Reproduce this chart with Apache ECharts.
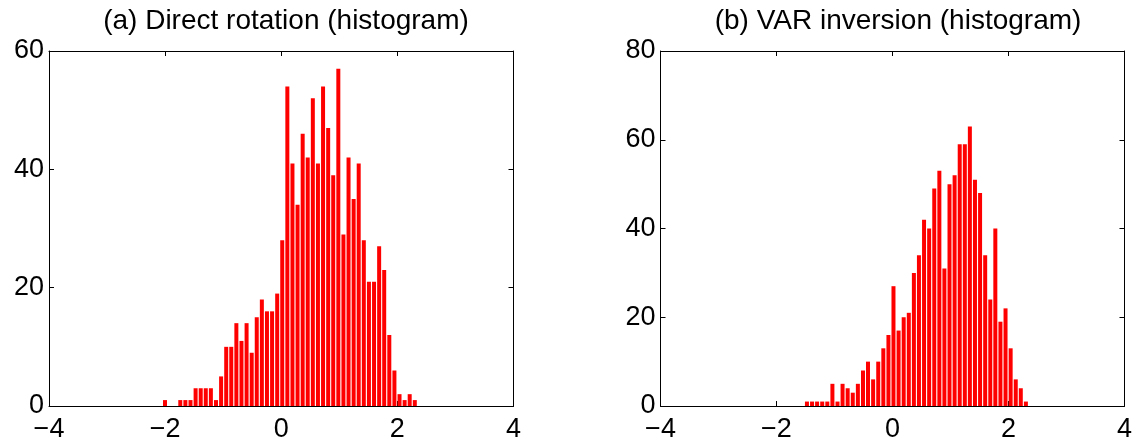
<!DOCTYPE html>
<html>
<head>
<meta charset="utf-8">
<script src="https://cdn.jsdelivr.net/npm/echarts@6/dist/echarts.min.js"></script>
<style>
html,body{margin:0;padding:0;background:#fff;}
#chart{width:1135px;height:446px;}
</style>
</head>
<body>
<div id="chart"></div>
<script>
// Histogram bin centers (shared by both panels)
const binCenters = [-2.002,-1.914,-1.826,-1.739,-1.651,-1.563,-1.475,-1.387,-1.300,-1.212,
  -1.124,-1.036,-0.948,-0.861,-0.773,-0.685,-0.597,-0.509,-0.422,-0.334,
  -0.246,-0.158,-0.070,0.017,0.105,0.193,0.281,0.369,0.456,0.544,
  0.632,0.720,0.808,0.895,0.983,1.071,1.159,1.247,1.334,1.422,
  1.510,1.598,1.686,1.773,1.861,1.949,2.037,2.125,2.212,2.300];
// (a) Direct rotation counts
const countsA = [1,0,0,1,1,1,3,3,3,3,
  1,5,10,10,14,11,14,9,15,18,
  16,16,19,28,54,41,34,46,42,52,
  41,54,47,39,57,29,42,35,41,28,
  21,21,27,23,12,6,2,1,2,1];
// (b) VAR inversion counts
const countsB = [0,0,0,0,0,0,1,1,1,1,
  1,5,1,5,4,3,5,8,10,6,
  10,13,16,27,17,20,21,30,34,42,
  40,49,53,31,50,52,59,59,63,51,
  48,34,24,40,19,22,13,6,4,1];
const titles = ['(a) Direct rotation (histogram)', '(b) VAR inversion (histogram)'];
const xTicks = [-4, -2, 0, 2, 4];
const yMaxA = 60, yMaxB = 80, yStep = 20;

const font = 'Liberation Sans, Arial, Helvetica, sans-serif';
const fs = 27;
const tfs = 28;
const chart = echarts.init(document.getElementById('chart'), null, {renderer: 'canvas'});

const grids = [
  {left: 49, right: 1135 - 513.5, top: 51, bottom: 40},
  {left: 660.5, right: 1135 - 1125.3, top: 51, bottom: 40}
];
const fmtMinus = v => String(v).replace('-', '\u2212');
function xAx(gi, pos, showLabel) {
  return {
    type: 'value', gridIndex: gi, position: pos,
    min: xTicks[0], max: xTicks[xTicks.length - 1], interval: 2,
    axisLine: {show: true, onZero: false, lineStyle: {color: '#000', width: 1}},
    axisTick: {show: true, inside: true, length: 5, lineStyle: {color: '#000'}},
    axisLabel: {show: showLabel, color: '#000', fontFamily: font, fontSize: fs, margin: 10, formatter: fmtMinus},
    splitLine: {show: false}
  };
}
function yAx(gi, pos, max, showLabel) {
  return {
    type: 'value', gridIndex: gi, position: pos,
    min: 0, max: max, interval: yStep,
    axisLine: {show: true, onZero: false, lineStyle: {color: '#000', width: 1}},
    axisTick: {show: true, inside: true, length: 5, lineStyle: {color: '#000'}},
    axisLabel: {show: showLabel, color: '#000', fontFamily: font, fontSize: fs, margin: 5},
    splitLine: {show: false}
  };
}
function barData(counts) {
  return binCenters.map((c, i) => [c, counts[i]]);
}
chart.setOption({
  animation: false,
  backgroundColor: '#fff',
  title: [
    {text: titles[0], left: 281, top: 2, textAlign: 'center',
     textStyle: {fontFamily: font, fontSize: tfs, fontWeight: 'normal', color: '#000'}},
    {text: titles[1], left: 893, top: 2, textAlign: 'center',
     textStyle: {fontFamily: font, fontSize: tfs, fontWeight: 'normal', color: '#000'}}
  ],
  grid: grids,
  xAxis: [xAx(0, 'bottom', true), xAx(0, 'top', false), xAx(1, 'bottom', true), xAx(1, 'top', false)],
  yAxis: [yAx(0, 'left', yMaxA, true), yAx(0, 'right', yMaxA, false), yAx(1, 'left', yMaxB, true), yAx(1, 'right', yMaxB, false)],
  series: [
    {type: 'bar', xAxisIndex: 0, yAxisIndex: 0, data: barData(countsA), barWidth: 4,
     itemStyle: {color: '#ff0000'}},
    {type: 'bar', xAxisIndex: 2, yAxisIndex: 2, data: barData(countsB), barWidth: 4,
     itemStyle: {color: '#ff0000'}}
  ]
});
</script>
</body>
</html>
